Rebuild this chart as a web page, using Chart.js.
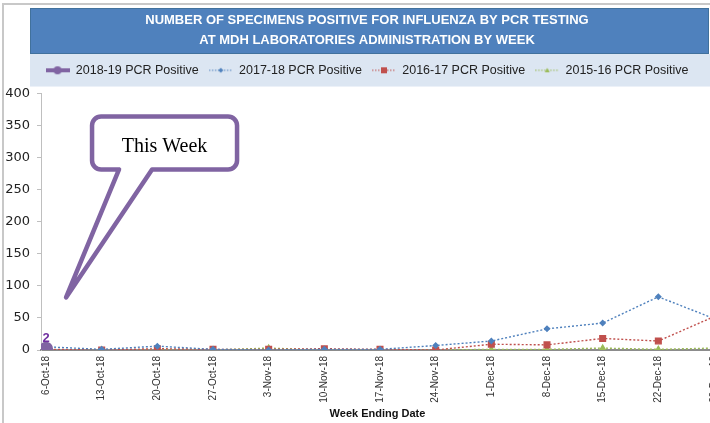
<!DOCTYPE html>
<html>
<head>
<meta charset="utf-8">
<script src="https://cdn.jsdelivr.net/npm/chart.js@4.4.1/dist/chart.umd.min.js"></script>
<style>
  html, body { margin: 0; padding: 0; background: #fff; overflow: hidden; }
  #wrap { position: relative; width: 732px; height: 423px; }
</style>
</head>
<body>
<div id="wrap"><canvas id="flu" width="732" height="423"></canvas></div>
<script>
// weekly counts
const weekLabels = ['6-Oct-18', '13-Oct-18', '20-Oct-18', '27-Oct-18', '3-Nov-18', '10-Nov-18', '17-Nov-18',
                    '24-Nov-18', '1-Dec-18', '8-Dec-18', '15-Dec-18', '22-Dec-18', '29-Dec-18'];
const pcr1819 = [2, null, null, null, null, null, null, null, null, null, null, null, null];
const pcr1718 = [5, 1, 6, 1, 0, 1, 1, 7, 14, 33, 42, 83, 49];
const pcr1617 = [1, 0, 2, 1, 1, 2, 1, 0, 9, 8, 18, 14, 52];
const pcr1516 = [0, 0, 0, 0, 3, 0, 0, 0, 1, 1, 3, 1, 3];

const seriesNames = ['2018-19 PCR Positive', '2017-18 PCR Positive', '2016-17 PCR Positive', '2015-16 PCR Positive'];
const seriesColors = ['#8064a2', '#4f81bd', '#c0504d', '#9bbb59'];
const yMax = 400, yStep = 50;
const titleLines = ['NUMBER OF SPECIMENS POSITIVE FOR INFLUENZA BY PCR TESTING', 'AT MDH LABORATORIES ADMINISTRATION BY WEEK'];
const xTitle = 'Week Ending Date';
const calloutText = 'This Week';

const toXY = arr => arr.map((v, i) => ({ x: i, y: v }));

// pick the narrow face if the machine has it
function hasFont(name) {
  const c = document.createElement('canvas').getContext('2d');
  c.font = '40px monospace';
  const a = c.measureText('NUMBER OF SPECIMENS').width;
  c.font = '40px "' + name + '", monospace';
  return c.measureText('NUMBER OF SPECIMENS').width !== a;
}
const narrow = hasFont('Liberation Sans Narrow');
const titleFont = narrow
  ? { family: 'Liberation Sans Narrow', size: 15.5, weight: 'bold', lineHeight: 1.29 }
  : { family: 'Liberation Sans', size: 13, weight: 'bold', lineHeight: 1.54 };

// legend icons: line + marker, like the Excel legend
function legendIcon(color, lw, dash, shape, r) {
  const c = document.createElement('canvas');
  c.width = 24; c.height = 12;
  const g = c.getContext('2d');
  g.strokeStyle = color; g.lineWidth = lw; g.setLineDash(dash);
  g.beginPath(); g.moveTo(0, 6); g.lineTo(24, 6); g.stroke();
  g.setLineDash([]);
  g.fillStyle = color;
  g.beginPath();
  if (shape === 'circle') g.arc(12, 6, r, 0, Math.PI * 2);
  else if (shape === 'rect') g.rect(12 - r, 6 - r, 2 * r, 2 * r);
  else if (shape === 'rectRot') { g.moveTo(12, 6 - r); g.lineTo(12 + r, 6); g.lineTo(12, 6 + r); g.lineTo(12 - r, 6); }
  else { g.moveTo(12, 6 - r); g.lineTo(12 + r, 6 + r * 0.8); g.lineTo(12 - r, 6 + r * 0.8); }
  g.fill();
  return c;
}
const icons = [
  legendIcon(seriesColors[0], 4, [], 'circle', 4),
  legendIcon(seriesColors[1], 1.2, [1.5, 1.5], 'rectRot', 2.5),
  legendIcon(seriesColors[2], 1.2, [1.5, 1.5], 'rect', 3),
  legendIcon(seriesColors[3], 1.2, [1.5, 1.5], 'triangle', 2.5)
];

const GAP = 7; // space between legend band and plot

// frame, blue banner and pale legend band
const backdrop = {
  id: 'backdrop',
  beforeDraw(chart) {
    const { ctx, width, legend } = chart;
    ctx.save();
    ctx.fillStyle = '#fff';
    ctx.fillRect(0, 0, width, chart.height);
    ctx.strokeStyle = '#c8c8c8';
    ctx.lineWidth = 2;
    ctx.beginPath(); ctx.moveTo(3, 423); ctx.lineTo(3, 4); ctx.lineTo(width, 4); ctx.stroke();
    ctx.fillStyle = '#4f81bd';
    ctx.fillRect(30, 8, 679, legend.top - 8);
    ctx.strokeStyle = '#41719c'; ctx.lineWidth = 1;
    ctx.strokeRect(30.5, 8.5, 678, legend.top - 9);
    ctx.fillStyle = '#dce6f2';
    ctx.fillRect(30, legend.top, width - 30, legend.bottom - GAP - legend.top);
    ctx.restore();
  }
};

// extra gap under the legend
const legendGap = {
  id: 'legendGap',
  beforeUpdate(chart) {
    const lg = chart.legend;
    if (lg && !lg._gap) {
      const fit = lg.fit;
      lg.fit = function () { fit.call(this); this.height += GAP; };
      lg._gap = true;
    }
  }
};

// the "2" above this week's point
const pointLabel = {
  id: 'pointLabel',
  afterDatasetsDraw(chart) {
    const meta = chart.getDatasetMeta(0);
    const { ctx } = chart;
    ctx.save();
    ctx.fillStyle = '#7030a0';
    ctx.font = 'bold 13px "Liberation Sans"';
    ctx.textAlign = 'center';
    ctx.textBaseline = 'middle';
    pcr1819.forEach((v, i) => {
      if (v === null) return;
      const p = meta.data[i];
      ctx.fillText(String(v), p.x, p.y - 10);
    });
    ctx.restore();
  }
};

// speech-bubble callout
const callout = {
  id: 'callout',
  afterDraw(chart) {
    const { ctx, scales } = chart;
    const tx = scales.x.getPixelForValue(0.36), ty = scales.y.getPixelForValue(82);
    const L = tx + 26, T = ty - 181, W = 145, H = 53, r = 9;
    const R = L + W, B = T + H;
    ctx.save();
    ctx.beginPath();
    ctx.moveTo(L + r, T);
    ctx.lineTo(R - r, T); ctx.arcTo(R, T, R, T + r, r);
    ctx.lineTo(R, B - r); ctx.arcTo(R, B, R - r, B, r);
    ctx.lineTo(L + 60, B); ctx.lineTo(tx, ty); ctx.lineTo(L + 27, B);
    ctx.lineTo(L + r, B); ctx.arcTo(L, B, L, B - r, r);
    ctx.lineTo(L, T + r); ctx.arcTo(L, T, L + r, T, r);
    ctx.closePath();
    ctx.fillStyle = '#fff';
    ctx.fill();
    ctx.lineWidth = 4.5;
    ctx.lineJoin = 'round';
    ctx.strokeStyle = '#8064a2';
    ctx.stroke();
    ctx.fillStyle = '#000';
    ctx.font = '20px "Liberation Serif"';
    ctx.textAlign = 'center';
    ctx.textBaseline = 'middle';
    ctx.fillText(calloutText, L + W / 2, T + 30);
    ctx.restore();
  }
};

const dotted = [2, 2];

new Chart(document.getElementById('flu'), {
  type: 'line',
  data: {
    datasets: [
      { label: seriesNames[0], data: toXY(pcr1819), borderColor: seriesColors[0], backgroundColor: seriesColors[0],
        borderWidth: 5, pointStyle: 'circle', pointRadius: 4.5 },
      { label: seriesNames[1], data: toXY(pcr1718), borderColor: seriesColors[1], backgroundColor: seriesColors[1],
        borderWidth: 1.4, borderDash: dotted, pointStyle: 'rectRot', pointRadius: 2.5 },
      { label: seriesNames[2], data: toXY(pcr1617), borderColor: seriesColors[2], backgroundColor: seriesColors[2],
        borderWidth: 1.4, borderDash: dotted, pointStyle: 'rect', pointRadius: 4 },
      { label: seriesNames[3], data: toXY(pcr1516), borderColor: seriesColors[3], backgroundColor: seriesColors[3],
        borderWidth: 1.4, borderDash: dotted, pointStyle: 'triangle', pointRadius: 3 }
    ]
  },
  options: {
    responsive: false,
    animation: false,
    events: [],
    layout: { padding: { top: 8, left: 2, right: 0, bottom: 0 } },
    elements: { line: { tension: 0 }, point: { borderWidth: 0 } },
    scales: {
      x: {
        type: 'linear', min: -0.09, max: weekLabels.length - 1,
        afterFit: s => { s.height = 73; },
        ticks: {
          stepSize: 1, includeBounds: false, maxTicksLimit: 40, autoSkip: false,
          minRotation: 90, maxRotation: 90, padding: 6, color: '#333',
          font: { family: 'Liberation Sans', size: 10 },
          callback: v => weekLabels[v] ?? ''
        },
        grid: { display: false, drawTicks: false },
        border: { display: true, color: '#8c8c8c', width: 2 },
        title: { display: true, text: xTitle, color: '#111', padding: { top: 0, bottom: 2 },
                 font: { family: 'Liberation Sans', size: 11, weight: 'bold' } }
      },
      y: {
        min: 0, max: yMax,
        afterFit: s => { s.width = 39; },
        ticks: { stepSize: yStep, padding: 7, color: '#222', font: { family: 'DejaVu Sans', size: 13 } },
        grid: { drawOnChartArea: false, drawTicks: true, tickLength: 4, color: '#bfbfbf' },
        border: { color: '#bfbfbf', width: 1 }
      }
    },
    plugins: {
      title: { display: true, text: titleLines, color: '#fff', font: titleFont, padding: { top: 2, bottom: 4 } },
      legend: {
        position: 'top',
        labels: {
          usePointStyle: true, pointStyleWidth: 24, padding: 10, color: '#222',
          font: { family: 'Liberation Sans', size: 12.5 },
          generateLabels: chart => chart.data.datasets.map((ds, i) => ({
            text: ds.label, pointStyle: icons[i], fillStyle: ds.borderColor, strokeStyle: ds.borderColor,
            lineWidth: 0, hidden: false, datasetIndex: i, fontColor: '#222'
          }))
        }
      },
      tooltip: { enabled: false }
    }
  },
  plugins: [backdrop, legendGap, pointLabel, callout]
});
</script>
</body>
</html>
